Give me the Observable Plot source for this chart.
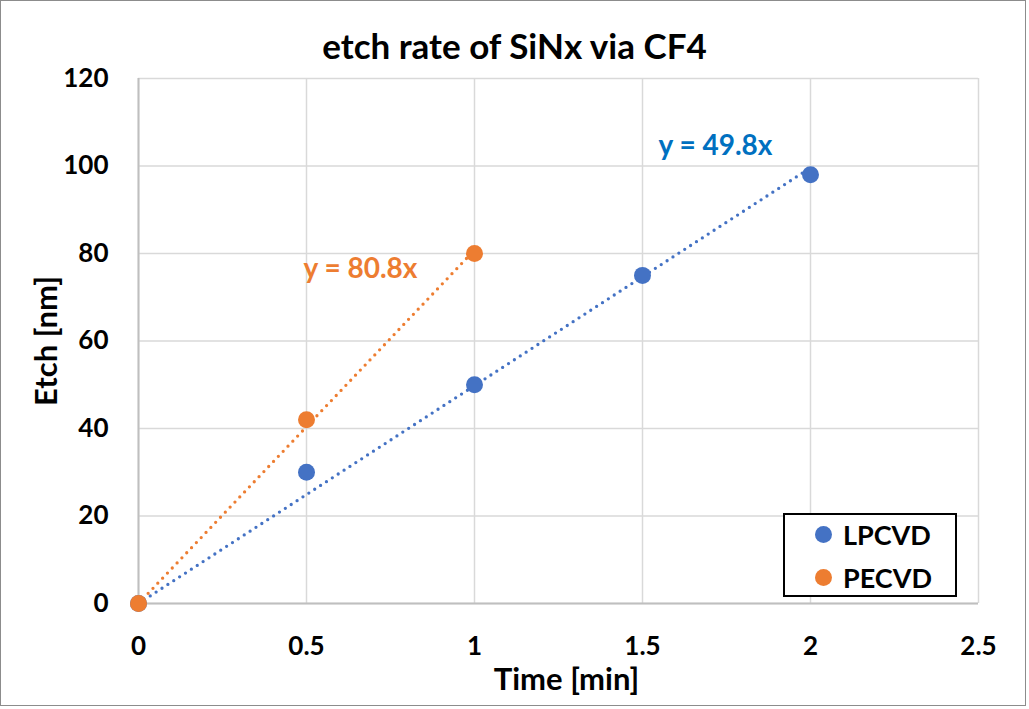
<!DOCTYPE html>
<html><head><meta charset="utf-8">
<script src="https://cdn.jsdelivr.net/npm/d3@7"></script>
<script src="https://cdn.jsdelivr.net/npm/@observablehq/plot@0.6"></script>
<style>
body{margin:0;background:#fff;font-family:Lato,"Open Sans",sans-serif;}
#wrap{position:relative;width:1029px;height:709px;overflow:hidden}
#frame{position:absolute;left:0;top:0;width:1024px;height:704px;border:1.5px solid #8c8c8c;pointer-events:none}
#title{position:absolute;left:0;width:1029px;top:25px;text-align:center;font-weight:bold;font-size:35px;color:#000;line-height:40px}
#legend{position:absolute;left:783px;top:513px;width:170px;height:80px;border:2px solid #000;background:#fff;font-weight:bold;font-size:27px;color:#000}
.item{position:absolute;left:30px;height:30px;display:flex;align-items:center;white-space:nowrap}
.sw{width:17px;height:17px;border-radius:50%;margin-right:11px;flex:none}
svg{position:absolute;left:0;top:0}
</style></head>
<body><div id="wrap"></div>
<script>
const chartTitle = "etch rate of SiNx via CF4";
const xLabel = "Time [min]";
const yLabel = "Etch [nm]";
const series = ["LPCVD", "PECVD"];
const lpcvdTime = [0, 0.5, 1, 1.5, 2];
const lpcvdEtch = [0, 30, 50, 75, 98];
const pecvdTime = [0, 0.5, 1];
const pecvdEtch = [0, 42, 80];
const slopes = [49.8, 80.8];
const trendLabels = ["y = 49.8x", "y = 80.8x"];
const colors = ["#4472C4", "#ED7D31"];
const labelColors = ["#0070C0", "#ED7D31"];
const xTicks = [0, 0.5, 1, 1.5, 2, 2.5];
const yTicks = [0, 20, 40, 60, 80, 100, 120];

const pts = [
  ...lpcvdTime.map((t, i) => ({s: series[0], x: t, y: lpcvdEtch[i]})),
  ...pecvdTime.map((t, i) => ({s: series[1], x: t, y: pecvdEtch[i]}))
];
const xs = [lpcvdTime, pecvdTime];
const trend = series.flatMap((s, k) => {
  const xm = d3.max(xs[k]);
  return [{s, x: 0, y: 0}, {s, x: xm, y: slopes[k] * xm}];
});
const lastPts = series.map((s, k) => ({s, k, x: d3.max(xs[k]), y: slopes[k] * d3.max(xs[k]), label: trendLabels[k]}));

const font = "Lato, 'Open Sans', sans-serif";
const plot = Plot.plot({
  width: 1029, height: 709,
  marginLeft: 138, marginRight: 51, marginTop: 78, marginBottom: 106,
  style: {fontFamily: font, fontWeight: "bold", color: "#000", background: "transparent"},
  x: {domain: [0, 2.5], axis: null},
  y: {domain: [0, 120], axis: null},
  color: {domain: series, range: colors},
  marks: [
    Plot.gridX(xTicks, {stroke: "#d9d9d9", strokeOpacity: 1, strokeWidth: 1.5}),
    Plot.gridY(yTicks, {stroke: "#d9d9d9", strokeOpacity: 1, strokeWidth: 1.5}),
    Plot.ruleY([0], {stroke: "#bfbfbf", strokeWidth: 2}),
    Plot.ruleX([0], {stroke: "#bfbfbf", strokeWidth: 2}),
    Plot.text(xTicks, {x: d => d, text: d => String(d), frameAnchor: "bottom", lineAnchor: "middle", dy: 43, fontSize: 26, fontWeight: "bold", fill: "#000"}),
    Plot.text(yTicks, {y: d => d, text: d => String(d), frameAnchor: "left", textAnchor: "end", dx: -30, fontSize: 26, fontWeight: "bold", fill: "#000"}),
    Plot.text([xLabel], {frameAnchor: "bottom", dy: 86, dx: 8, fontSize: 31, fontWeight: "bold", fill: "#000"}),
    Plot.text([yLabel], {frameAnchor: "left", textAnchor: "middle", dx: -91, rotate: -90, fontSize: 31, fontWeight: "bold", fill: "#000"}),
    Plot.line(trend, {x: "x", y: "y", z: "s", stroke: "s", strokeWidth: 3.3, strokeDasharray: "0,7", strokeLinecap: "round"}),
    Plot.dot(pts, {x: "x", y: "y", fill: "s", r: 8.5}),
    Plot.text(lastPts.filter(d => d.k === 0), {x: "x", y: "y", text: "label", fill: labelColors[0], fontSize: 28, fontWeight: "bold", dx: -95, dy: -22}),
    Plot.text(lastPts.filter(d => d.k === 1), {x: "x", y: "y", text: "label", fill: labelColors[1], fontSize: 28, fontWeight: "bold", dx: -114, dy: 19})
  ]
});
const wrap = document.getElementById("wrap");
wrap.appendChild(plot);
const t = document.createElement("div"); t.id = "title"; t.textContent = chartTitle; wrap.appendChild(t);
const lg = document.createElement("div"); lg.id = "legend";
series.forEach((s, k) => {
  const it = document.createElement("div"); it.className = "item"; it.style.top = (k === 0 ? 4 : 47) + "px";
  const sw = document.createElement("span"); sw.className = "sw"; sw.style.background = colors[k];
  const tx = document.createElement("span"); tx.textContent = s;
  it.appendChild(sw); it.appendChild(tx); lg.appendChild(it);
});
wrap.appendChild(lg);
const fr = document.createElement("div"); fr.id = "frame"; wrap.appendChild(fr);
</script></body></html>
